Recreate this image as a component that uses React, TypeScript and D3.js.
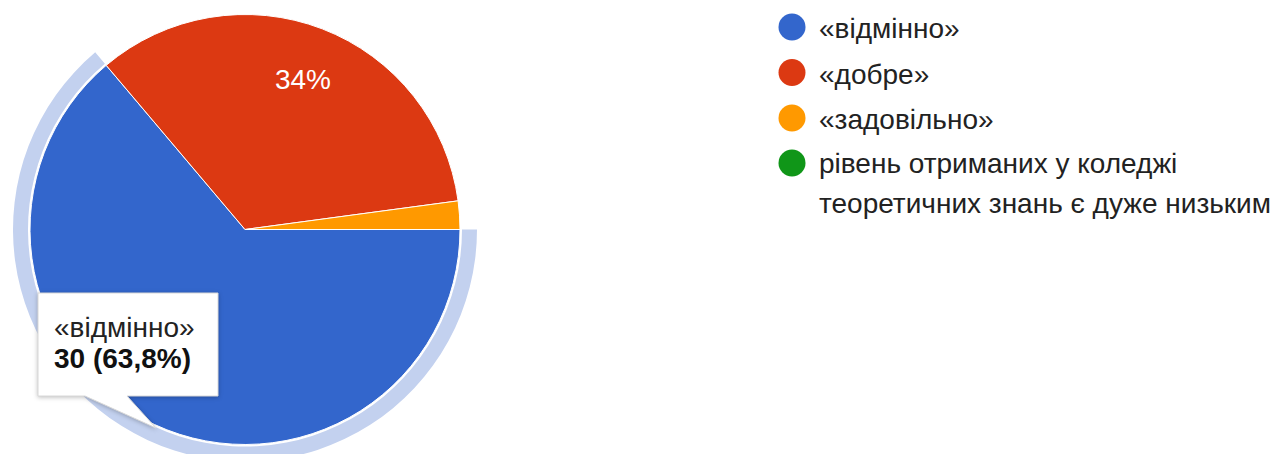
import { useEffect, useRef } from "react";
import * as d3 from "d3";

const categories = [
  "«відмінно»",
  "«добре»",
  "«задовільно»",
  "рівень отриманих у коледжі теоретичних знань є дуже низьким",
];
const legendLines = [
  ["«відмінно»"],
  ["«добре»"],
  ["«задовільно»"],
  ["рівень отриманих у коледжі", "теоретичних знань є дуже низьким"],
];
const counts = [30, 16, 1, 0];
const colors = ["#3366cc", "#dc3912", "#ff9900", "#109618"];
const tooltipLines = ["«відмінно»", "30 (63,8%)"];

const FONT = "Arial, 'Liberation Sans', sans-serif";

export default function App() {
  const svgRef = useRef<SVGSVGElement | null>(null);

  useEffect(() => {
    if (!svgRef.current) return;
    const svg = d3.select(svgRef.current);
    svg.selectAll("*").remove();

    const cx = 245;
    const cy = 229.5;
    const r = 215;
    const total = d3.sum(counts);

    const pie = d3
      .pie<number>()
      .sort(null)
      .startAngle(Math.PI / 2)
      .endAngle(Math.PI / 2 + 2 * Math.PI)(counts);
    const arc = d3.arc<d3.PieArcDatum<number>>().innerRadius(0).outerRadius(r);

    const g = svg.append("g").attr("transform", `translate(${cx},${cy})`);

    // halo around the hovered slice
    const hov = pie[0];
    g.append("path")
      .attr(
        "d",
        d3.arc()({
          innerRadius: r + 2,
          outerRadius: r + 17,
          startAngle: hov.startAngle,
          endAngle: hov.endAngle,
        } as any)
      )
      .attr("fill", "#c3d1ef");

    g.selectAll(".slice")
      .data(pie.filter((d) => d.value > 0))
      .enter()
      .append("path")
      .attr("class", "slice")
      .attr("d", arc)
      .attr("fill", (d) => colors[d.index])
      .attr("stroke", "#fff")
      .attr("stroke-width", 1);

    // percent label on the red slice (blue one is under the tooltip)
    const labelArc = d3
      .arc<d3.PieArcDatum<number>>()
      .innerRadius(r * 0.75)
      .outerRadius(r * 0.75);
    g.selectAll(".pct")
      .data(pie.filter((d) => d.index === 1))
      .enter()
      .append("text")
      .attr("class", "pct")
      .attr("x", (d) => labelArc.centroid(d)[0])
      .attr("y", (d) => labelArc.centroid(d)[1] + 10)
      .attr("text-anchor", "middle")
      .attr("fill", "#fff")
      .attr("font-family", FONT)
      .attr("font-size", 28)
      .text((d) => `${Math.round((d.value / total) * 100)}%`);

    // tooltip
    const tip = svg.append("g");
    tip
      .append("path")
      .attr("d", "M38,293 H218 V396 H127 L156,428 L85,396 H38 Z")
      .attr("fill", "#fff")
      .attr("stroke", "#d8d8d8")
      .attr("stroke-width", 1)
      .style("filter", "drop-shadow(0px 1px 2px rgba(0,0,0,0.25))");
    tip
      .append("text")
      .attr("x", 54)
      .attr("y", 337)
      .attr("font-family", FONT)
      .attr("font-size", 28)
      .attr("fill", "#222")
      .text(tooltipLines[0]);
    tip
      .append("text")
      .attr("x", 54)
      .attr("y", 368)
      .attr("font-family", FONT)
      .attr("font-size", 28)
      .attr("font-weight", "bold")
      .attr("fill", "#111")
      .text(tooltipLines[1]);

    // legend
    const rowY = [27, 72.5, 118, 163];
    const baseY = [38, 83.5, 129, 173];
    const legend = svg
      .selectAll(".legend")
      .data(categories)
      .enter()
      .append("g")
      .attr("class", "legend");
    legend
      .append("circle")
      .attr("cx", 792)
      .attr("cy", (_, i) => rowY[i])
      .attr("r", 13.5)
      .attr("fill", (_, i) => colors[i]);
    legend.each(function (_, i) {
      legendLines[i].forEach((line, j) => {
        d3.select(this)
          .append("text")
          .attr("x", 819)
          .attr("y", baseY[i] + j * 40)
          .attr("font-family", FONT)
          .attr("font-size", 28)
          .attr("fill", "#222")
          .text(line);
      });
    });
  }, []);

  return (
    <div style={{ margin: -8 }}>
      <svg ref={svgRef} width={1288} height={462} style={{ display: "block" }} />
    </div>
  );
}
